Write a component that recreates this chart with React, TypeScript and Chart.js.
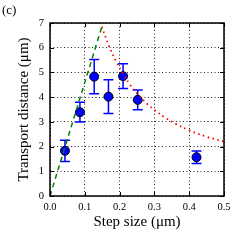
import React, { useEffect, useRef } from "react";
import { Chart, registerables } from "chart.js";

Chart.register(...registerables);

// Measured points (step size µm, transport distance µm, error)
const stepSizes = [0.043, 0.086, 0.127, 0.168, 0.21, 0.252, 0.421];
const distances = [1.83, 3.39, 4.83, 4.02, 4.85, 3.89, 1.57];
const errors = [0.43, 0.4, 0.69, 0.68, 0.5, 0.4, 0.25];

// Green dashed guide line
const greenX = [0, 0.149];
const greenY = [0, 6.85];

// Red dotted curve
const redX = [0.149, 0.17, 0.19, 0.21, 0.23, 0.25, 0.28, 0.3, 0.33, 0.36, 0.4, 0.45, 0.5];
const redY = [6.85, 6.05, 5.45, 4.95, 4.5, 4.15, 3.72, 3.48, 3.18, 2.93, 2.66, 2.4, 2.2];

const xTicks = [0, 0.1, 0.2, 0.3, 0.4, 0.5];
const yTicks = [0, 1, 2, 3, 4, 5, 6, 7];

const SERIF = "'Liberation Serif', 'DejaVu Serif', serif";

const errorBarPlugin = {
  id: "errorBars",
  beforeDatasetDraw(chart: any, args: any) {
    if (args.index !== 2) return;
    const { ctx, scales } = chart;
    const xs = scales.x;
    const ys = scales.y;
    ctx.save();
    ctx.strokeStyle = "#0000ff";
    ctx.lineWidth = 1.5;
    stepSizes.forEach((sx, i) => {
      const px = xs.getPixelForValue(sx);
      const top = ys.getPixelForValue(distances[i] + errors[i]);
      const bot = ys.getPixelForValue(distances[i] - errors[i]);
      ctx.beginPath();
      ctx.moveTo(px, top);
      ctx.lineTo(px, bot);
      ctx.moveTo(px - 5, top);
      ctx.lineTo(px + 5, top);
      ctx.moveTo(px - 5, bot);
      ctx.lineTo(px + 5, bot);
      ctx.stroke();
    });
    ctx.restore();
  },
};

const framePlugin = {
  id: "frame",
  afterDraw(chart: any) {
    const { ctx, chartArea, scales } = chart;
    const { left, right, top, bottom } = chartArea;
    ctx.save();
    ctx.strokeStyle = "#000";
    ctx.lineWidth = 1;
    ctx.beginPath();
    xTicks.forEach((t) => {
      const px = Math.round(scales.x.getPixelForValue(t)) + 0.5;
      ctx.moveTo(px, bottom);
      ctx.lineTo(px, bottom - 4);
      ctx.moveTo(px, top);
      ctx.lineTo(px, top + 4);
    });
    yTicks.forEach((t) => {
      const py = Math.round(scales.y.getPixelForValue(t)) + 0.5;
      ctx.moveTo(left, py);
      ctx.lineTo(left + 4, py);
      ctx.moveTo(right, py);
      ctx.lineTo(right - 4, py);
    });
    ctx.stroke();
    ctx.lineWidth = 1.5;
    ctx.strokeRect(left, top, right - left, bottom - top);
    ctx.fillStyle = "#000";
    ctx.font = `13px ${SERIF}`;
    ctx.textAlign = "left";
    ctx.textBaseline = "middle";
    ctx.fillText("(c)", 2, 11);
    ctx.restore();
  },
};

export default function App() {
  const ref = useRef<HTMLCanvasElement | null>(null);
  useEffect(() => {
    if (!ref.current) return;
    const chart = new Chart(ref.current, {
      type: "scatter",
      data: {
        datasets: [
          {
            type: "line",
            data: greenX.map((x, i) => ({ x, y: greenY[i] })),
            borderColor: "#008000",
            borderWidth: 1.5,
            borderDash: [5, 4],
            pointRadius: 0,
            showLine: true,
            fill: false,
          } as any,
          {
            type: "line",
            data: redX.map((x, i) => ({ x, y: redY[i] })),
            borderColor: "#ff0000",
            borderWidth: 1.8,
            borderDash: [1.5, 3.5],
            pointRadius: 0,
            showLine: true,
            fill: false,
            tension: 0.4,
          } as any,
          {
            data: stepSizes.map((x, i) => ({ x, y: distances[i] })),
            backgroundColor: "#0000ff",
            borderColor: "#000",
            borderWidth: 1,
            pointRadius: 4.5,
          },
        ],
      },
      options: {
        animation: false,
        responsive: false,
        maintainAspectRatio: false,
        events: [],
        layout: { padding: { top: 23, right: 26, left: 0, bottom: 0 } },
        plugins: { legend: { display: false }, tooltip: { enabled: false } },
        scales: {
          x: {
            type: "linear",
            min: 0,
            max: 0.5,
            afterFit: (s: any) => {
              s.height = 54;
            },
            afterBuildTicks: (s: any) => {
              s.ticks = xTicks.map((v) => ({ value: v }));
            },
            ticks: {
              color: "#000",
              font: { family: SERIF, size: 10.5 },
              padding: 5,
              maxRotation: 0,
              callback: (v: any) => Number(v).toFixed(1),
            },
            grid: { color: "rgba(0,0,0,0.85)", lineWidth: 1, drawTicks: false },
            border: { display: false, dash: [1, 2.5] },
            title: {
              display: true,
              text: "Step size (μm)",
              color: "#000",
              font: { family: SERIF, size: 15 },
              padding: { top: 0, bottom: 19 },
            },
          },
          y: {
            type: "linear",
            min: 0,
            max: 7,
            afterFit: (s: any) => {
              s.width = 50;
            },
            afterBuildTicks: (s: any) => {
              s.ticks = yTicks.map((v) => ({ value: v }));
            },
            ticks: {
              color: "#000",
              font: { family: SERIF, size: 10.5 },
              padding: 6,
              callback: (v: any) => String(v),
            },
            grid: { color: "rgba(0,0,0,0.85)", lineWidth: 1, drawTicks: false },
            border: { display: false, dash: [1, 2.5] },
            title: {
              display: true,
              text: "Transport distance (μm)",
              color: "#000",
              font: { family: SERIF, size: 15 },
              padding: { top: 15, bottom: 0 },
            },
          },
        },
      },
      plugins: [errorBarPlugin, framePlugin],
    });
    return () => chart.destroy();
  }, []);
  return (
    <div style={{ position: "fixed", left: 0, top: 0, width: 250, height: 250, background: "#fff" }}>
      <canvas ref={ref} width={250} height={250} style={{ width: 250, height: 250 }} />
    </div>
  );
}
